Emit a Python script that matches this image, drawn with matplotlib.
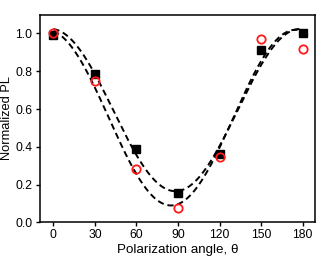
#!/usr/bin/env python3

import matplotlib
matplotlib.use('Agg')
import matplotlib.pyplot as plt
import numpy as np

plt.rcParams['font.family'] = ['Liberation Sans', 'DejaVu Sans']

# polarization angle (deg) and normalized PL values
angles = [0, 30, 60, 90, 120, 150, 180]
pl_squares = [0.99, 0.785, 0.39, 0.155, 0.36, 0.91, 1.0]
pl_circles = [1.0, 0.75, 0.285, 0.075, 0.345, 0.97, 0.915]

x_ticks = [0, 30, 60, 90, 120, 150, 180]
y_ticks = [0.0, 0.2, 0.4, 0.6, 0.8, 1.0]


def cos2_fit(theta, values):
    # least squares fit of a + b*cos^2(theta - phi), written in linear form
    t = np.radians(theta)
    design = np.column_stack([np.ones_like(t), np.cos(2 * t), np.sin(2 * t)])
    coef, *_ = np.linalg.lstsq(design, np.asarray(values), rcond=None)
    return coef


def eval_fit(coef, theta):
    t = np.radians(theta)
    return coef[0] + coef[1] * np.cos(2 * t) + coef[2] * np.sin(2 * t)


fig = plt.figure(figsize=(3.32, 2.59), dpi=100)
ax = fig.add_axes([0.119, 0.141, 0.83, 0.803])

theta_fine = np.linspace(0, 180, 400)
for vals in (pl_squares, pl_circles):
    c = cos2_fit(angles, vals)
    ax.plot(theta_fine, eval_fit(c, theta_fine), color='black', lw=1.4,
            ls=(0, (3.2, 2.0)), zorder=2)

ax.plot(angles, pl_squares, ls='none', marker='s', ms=6.4, color='black',
        zorder=3)
ax.plot(angles, pl_circles, ls='none', marker='o', ms=6.0, mfc='none',
        mec='#ff1a1a', mew=1.3, zorder=4)

ax.set_xlim(-10, 189)
ax.set_ylim(0, 1.1)
ax.set_xticks(x_ticks)
ax.set_yticks(y_ticks)
ax.set_yticklabels(['{:.1f}'.format(v) for v in y_ticks])
ax.tick_params(direction='out', length=3, width=1, labelsize=8.7, pad=2,
               top=False, right=False)
for s in ax.spines.values():
    s.set_linewidth(1.1)

ax.set_xlabel('Polarization angle, θ', fontsize=9.6, labelpad=2)
ax.set_ylabel('Normalized PL', fontsize=9.3, labelpad=1)
ax.yaxis.set_label_coords(-0.095, 0.5)

fig.savefig('out.png', dpi=100)
